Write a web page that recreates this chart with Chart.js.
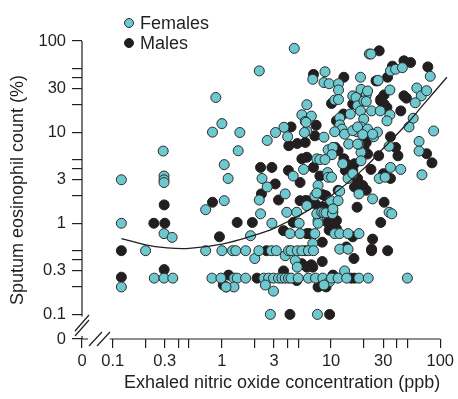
<!DOCTYPE html>
<html>
<head>
<meta charset="utf-8">
<script src="https://cdn.jsdelivr.net/npm/chart.js@4"></script>
<style>
  body { margin: 0; background: #fff; }
</style>
</head>
<body>
<canvas id="grafico" width="458" height="399"></canvas>
<script>
// exhaled NO (ppb) vs sputum eosinophils (%)
var females = [
  [0.12,3.0],[0.12,1.0],[0.12,0.2],[0.2,0.5],
  [0.29,6.2],[0.295,3.3],[0.295,3.0],[0.295,2.8],
  [0.295,0.77],[0.35,0.7],[0.24,0.25],[0.295,0.25],[0.355,0.25],
  [0.88,24],[1.0,12.4],[0.82,10],[1.05,4.4],[1.14,3.1],[1.05,1.77],
  [0.71,1.41],[0.71,0.5],[1.0,0.5],[0.81,0.25],[0.98,0.25],[1.1,0.2],
  [4.6,83],[2.2,47],[22.4,72],[23.2,72],[6.8,38],[8.8,46],[8.6,35],[9.6,34],[11.7,34],[11.7,29],[10.8,22.5],[11.7,22.8],
  [18.6,40],[27,37],[35,47],[39,49],[45,51],[81,41],[61,30.5],[67,25],[75,28.5],[59,21],[34.6,29],
  [20,27],[18.8,29.5],[21,25.6],[21.6,28.3],[15.8,25],[16.9,24],[17.5,19.5],[20,22],[21,21.7],[18.6,17.1],[23.5,17.1],[28.2,17.1],
  [56.5,14.2],[51.8,11.4],[34.6,15.5],[32.5,13.3],[15,15.8],[12,14.3],[12,12],[19.9,13.9],[18.8,11.4],[21.6,10.8],[17.3,10.1],
  [12.6,10.8],[13.3,9.5],[10.8,10.1],[24.6,8.9],[26.6,10],[64,7.9],[64,6.2],[87,10.3],[34,7.0],[35,4.1],[43.5,3.9],[68,3.4],
  [27.6,3.1],[31.3,3.2],[18.8,6.0],[18.8,4.85],[18,7.4],[14.5,7.4],[9.4,6.4],[10.4,6.8],[10.2,5.66],[12.8,4.5],[14.3,3.1],[15.8,3.5],
  [18,2.1],[24,1.85],[5.4,15.5],[6.0,20],[6.6,15],[5.8,13.1],[6.0,10.3],[5.7,9.9],[8.6,8.8],[3.7,11.3],[4.0,8.9],[3.1,9.9],[2.6,8.1],
  [1.41,6.25],[1.46,9.9],[2.2,1.8],[2.33,3.1],[2.6,2.5],[3.8,2.1],[4.5,3.3],[5.6,3.9],[7.4,5.1],[7.9,5.0],[8.8,5.0],[9.3,3.6],[9.4,3.2],[10.1,3.2],[7.6,2.6],[5.9,12.8],
  [15.8,10.4],[17.5,11.4],[19.5,9.4],[24,9.5],[17.5,7.4],
  [7.1,2.0],[7.4,2.15],[9.9,1.77],[12,2.25],[11.6,1.77],[34,1.32],[36,1.27],
  [2.26,1.27],[2.87,1.0],[1.83,0.73],[3.93,1.32],[4.85,1.32],[5.1,1.0],[6.0,1.56],[4.2,0.77],[5.2,0.77],[7.1,0.77],[6.8,0.6],[7.6,1.07],[7.6,1.0],
  [7.4,1.27],[8.2,1.32],[8.6,1.3],[9.0,1.3],[10.4,1.32],[10.3,1.27],[10.4,1.44],[10.8,0.77],[12,0.77],[14.3,0.77],[18,0.77],[12,0.52],[14.3,0.52],
  [1.25,0.5],[1.34,0.5],[1.65,0.5],[2.0,0.41],[2.18,0.5],[2.84,0.5],[3.15,0.5],[3.8,0.44],[4.07,0.5],[4.3,0.5],[4.9,0.5],[5.4,0.5],[6.2,0.5],[6.9,0.5],[4.7,0.39],[4.9,0.33],
  [1.29,0.25],[1.38,0.25],[1.65,0.25],[2.42,0.25],[2.68,0.25],[2.97,0.25],[3.3,0.25],[3.54,0.25],[3.8,0.25],[4.07,0.25],[4.3,0.25],[5.0,0.25],[6.2,0.25],[7.2,0.25],
  [8.4,0.25],[9.7,0.23],[10.1,0.25],[8.6,0.21],[11.6,0.25],[13.3,0.3],[13.9,0.25],[18,0.25],[21.9,0.25],[50,0.25],[1.29,0.2],[1.09,0.2],[2.5,0.21],[2.97,0.18],
  [2.78,0.1],[7.5,0.1]
]

var males = [
  [0.296,1.59],[0.238,1.0],[0.3,1.0],[0.12,0.5],[0.12,0.256],[0.296,0.31],[0.82,1.7],[0.95,0.71],[1.15,0.27],[1.03,0.21],
  [27.6,78],[6.9,43],[13.1,40],[25.8,36.5],[26.6,36.5],[32.9,40],[36.5,53],[46.5,60.6],[53.5,58],[77,52],[46.5,25],[49,23.6],
  [30.6,25.6],[28.5,23],[16.4,20.4],[28.5,22],[30.6,20.3],[32.5,18.6],[43.5,17.1],[11.2,13.3],[22.4,9.1],[35,8.9],[75,5.8],[84,4.6],
  [39,6.8],[41,5.5],[27.3,5.5],[30.2,3.5],[35,3.1],[23.2,3.9],[16.4,4.5],[15.3,4.1],[14.8,3.5],[20,6.8],[21,7.7],[21.6,5.75],
  [10.9,6.8],[11.6,6.25],[13.1,5.1],[13.8,4.5],[13.5,3.8],[16.6,3.2],[19.5,2.6],[21,2.3],[7.3,11.9],[7.1,9.1],[4.3,11.4],[4.1,7.1],
  [4.9,7.5],[5.8,7.7],[2.26,4.1],[2.87,4.1],[3.08,2.7],[4.07,3.8],[5.2,2.8],[5.4,5.1],[6.0,5.3],[6.9,4.1],[7.9,3.3],[10.1,20.6],
  [15.8,20.4],[13,15.8],[2.3,2.1],[3.3,1.8],[8.4,2.06],[9.0,2.0],[7.2,1.63],[15.8,3.8],[14.3,3.6],[17.5,3.1],[30.6,1.7],
  [6.0,1.77],[8.8,2.0],[11.6,2.3],[16.4,2.5],[28.5,1.02],[24,0.67],[23.5,0.52],[23.5,0.5],[33,0.5],
  [1.38,1.02],[1.9,1.02],[3.67,0.83],[4.5,1.02],[5.2,1.77],[5.8,1.77],[6.0,0.77],[6.3,0.77],[8.2,1.5],[8.8,1.5],[9.3,1.02],[10.8,1.02],
  [9.6,0.84],[11.2,0.87],[15.8,0.71],[16.2,0.41],[13.8,0.55],[17.3,1.5],[11.2,1.07],[8.3,0.62],
  [2.56,0.5],[5.4,0.36],[6.8,0.33],[8.3,0.38],[5.8,0.5],
  [2.1,0.25],[3.67,0.3],[4.85,0.235],[6.0,0.33],[6.6,0.35],[7.6,0.2],[9.0,0.2],[7.9,0.23],[10.4,0.27],[15.3,0.25],[16.4,0.25],
  [4.2,0.1],[9.7,0.1]
]

// fitted curve, read at a few points along the drawn line
var curvaX = [0.12, 0.2, 0.3, 0.5, 1, 2, 3, 5, 10, 20, 30, 50, 70, 115]
var curvaY = [0.68, 0.58, 0.54, 0.53, 0.59, 0.74, 0.88, 1.2, 2.0, 4.0, 6.6, 12.5, 20, 40]

// axes: the "0" position sits at the broken end of each log axis
var xZero = 0.0523
var yZero = 0.0537
var xTicks = [xZero, 0.1, 0.2, 0.3, 0.4, 0.5, 1, 2, 3, 4, 5, 10, 20, 30, 40, 50, 100]
var xLabels = ['0', '0.1', '', '0.3', '', '', '1', '', '3', '', '', '10', '', '30', '', '', '100']
var yTicks = [yZero, 0.1, 0.2, 0.3, 0.4, 0.5, 1, 2, 3, 4, 5, 10, 20, 30, 40, 50, 100]
var yLabels = ['0', '0.1', '', '0.3', '', '', '1', '', '3', '', '', '10', '', '30', '', '', '100']

var escuro = '#231F20'
var ciano = '#6DC9CF'

Grafico()

function Grafico() {

    var eixos = {
        id: 'eixos',
        afterDraw: function (chart) {
            var ctx = chart.ctx
            var sx = chart.scales.x
            var sy = chart.scales.y
            var x0 = sx.left
            var y0 = sy.bottom
            ctx.save()
            ctx.strokeStyle = escuro
            ctx.lineWidth = 1.2
            ctx.beginPath()
            // y axis, broken below 0.1
            ctx.moveTo(x0, sy.top)
            ctx.lineTo(x0, sy.getPixelForValue(0.1) + 2)
            ctx.moveTo(x0, y0 - 3)
            ctx.lineTo(x0, y0)
            // x axis, broken left of 0.1
            ctx.moveTo(x0, y0)
            ctx.lineTo(x0 + 6, y0)
            ctx.moveTo(sx.getPixelForValue(0.1) - 3, y0)
            ctx.lineTo(sx.right, y0)
            ctx.stroke()

            // break marks
            ctx.beginPath()
            var cy = y0 - 13
            ctx.moveTo(x0 - 7, cy + 5); ctx.lineTo(x0 + 7, cy - 11)
            ctx.moveTo(x0 - 7, cy + 10); ctx.lineTo(x0 + 7, cy - 6)
            var cx = x0 + 15
            ctx.moveTo(cx - 8, y0 + 7); ctx.lineTo(cx + 5, y0 - 7)
            ctx.moveTo(cx, y0 + 7); ctx.lineTo(cx + 13, y0 - 7)
            ctx.stroke()

            // legend
            var itens = [chart.data.datasets[1], chart.data.datasets[2]]
            ctx.font = '18px "Liberation Sans", Arial, sans-serif'
            ctx.textBaseline = 'middle'
            itens.forEach(function (ds, i) {
                var ly = 23 + i * 20
                ctx.beginPath()
                ctx.arc(129, ly, 4.5, 0, Math.PI * 2)
                ctx.fillStyle = ds.backgroundColor
                ctx.fill()
                ctx.lineWidth = 1
                ctx.strokeStyle = ds.borderColor
                ctx.stroke()
                ctx.fillStyle = escuro
                ctx.fillText(ds.label, 140, ly + 1)
            })
            ctx.restore()
        }
    }

    var ctx = document.getElementById('grafico').getContext('2d')
    var meuGrafico = new Chart(ctx, {
        type: 'scatter',
        data: {
            datasets: [{
                label: 'Curve',
                type: 'line',
                data: curvaX.map(function (v, i) { return { x: v, y: curvaY[i] } }),
                borderColor: escuro,
                borderWidth: 1.3,
                pointRadius: 0,
                tension: 0.4,
                fill: false,
                clip: false
            }, {
                label: 'Females',
                data: females.map(function (p) { return { x: p[0], y: p[1] } }),
                backgroundColor: ciano,
                borderColor: '#2A2A2A',
                borderWidth: 1,
                pointRadius: 5,
                clip: false
            }, {
                label: 'Males',
                data: males.map(function (p) { return { x: p[0], y: p[1] } }),
                backgroundColor: escuro,
                borderColor: escuro,
                borderWidth: 1,
                pointRadius: 5,
                clip: false
            }]
        },
        options: {
            responsive: false,
            animation: false,
            devicePixelRatio: 1,
            layout: { padding: { top: 41, right: 15, bottom: 0, left: 0 } },
            plugins: { legend: { display: false }, tooltip: { enabled: false } },
            scales: {
                x: {
                    type: 'logarithmic',
                    min: xZero,
                    max: 100,
                    afterFit: function (s) { s.height = 60 },
                    afterBuildTicks: function (s) { s.ticks = xTicks.map(function (v) { return { value: v } }) },
                    border: { display: false },
                    grid: { drawOnChartArea: false, drawTicks: true, tickLength: 9, color: escuro, lineWidth: 1.2 },
                    ticks: {
                        autoSkip: false, maxRotation: 0, minRotation: 0, padding: 4,
                        color: escuro, font: { family: '"Liberation Sans", Arial, sans-serif', size: 16.5 },
                        callback: function (v, i) { return xLabels[i] }
                    },
                    title: {
                        display: true, text: 'Exhaled nitric oxide concentration (ppb)', align: 'end',
                        color: escuro, font: { family: '"Liberation Sans", Arial, sans-serif', size: 18 },
                        padding: { top: 0, bottom: 5 }
                    }
                },
                y: {
                    type: 'logarithmic',
                    min: yZero,
                    max: 100,
                    afterFit: function (s) { s.width = 82 },
                    afterBuildTicks: function (s) { s.ticks = yTicks.map(function (v) { return { value: v } }) },
                    border: { display: false },
                    grid: { drawOnChartArea: false, drawTicks: true, tickLength: 10, color: escuro, lineWidth: 1.2 },
                    ticks: {
                        autoSkip: false, padding: 6,
                        color: escuro, font: { family: '"Liberation Sans", Arial, sans-serif', size: 16.5 },
                        callback: function (v, i) { return yLabels[i] }
                    },
                    title: {
                        display: true, text: 'Sputum eosinophil count (%)',
                        color: escuro, font: { family: '"Liberation Sans", Arial, sans-serif', size: 18 },
                        padding: { top: 7, bottom: 0 }
                    }
                }
            }
        },
        plugins: [eixos]
    })
}
</script>
</body>
</html>
